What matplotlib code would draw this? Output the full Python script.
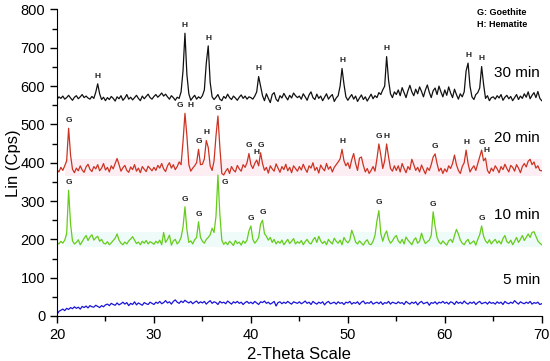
import numpy as np
import matplotlib
matplotlib.use("Agg")
from matplotlib import pyplot as plt
from matplotlib.ticker import MultipleLocator

plt.rcParams['font.family'] = ['Liberation Sans', 'DejaVu Sans']

# scan positions: 20 -> 70 deg, 0.2 deg step (251 points)
two_theta = np.linspace(20, 70, 251)

min30 = [
    565, 572, 568, 574, 566, 570, 576, 569, 563, 571, 575, 567, 572, 578, 570, 574, 569, 566, 573, 568, 584, 606, 580, 565, 571,
    562, 570, 565, 573, 568, 561, 572, 567, 575, 563, 569, 578, 566, 571, 564, 570, 576, 568, 562, 574, 567, 573, 579, 570, 566,
    573, 578, 571, 576, 582, 574, 579, 572, 566, 575, 570, 563, 571, 568, 585, 640, 738, 630, 580, 563, 570, 576, 566, 572, 568,
    575, 590, 660, 705, 610, 572, 565, 571, 578, 566, 562, 573, 568, 579, 570, 565, 574, 569, 563, 571, 577, 568, 574, 566, 572,
    570, 566, 574, 585, 625, 600, 575, 562, 580, 568, 557, 578, 583, 566, 560, 575, 569, 581, 572, 564, 576, 569, 582, 575, 570,
    574, 566, 580, 572, 563, 577, 585, 570, 565, 579, 568, 574, 562, 571, 580, 566, 573, 578, 560, 569, 575, 600, 646, 605, 572,
    563, 571, 578, 566, 574, 560, 569, 577, 565, 572, 561, 570, 579, 567, 575, 570, 583, 578, 590, 600, 677, 615, 580, 570, 585,
    578, 590, 575, 596, 583, 570, 588, 602, 585, 575, 592, 580, 598, 586, 572, 590, 603, 584, 570, 588, 595, 578, 600, 585, 572,
    590, 576, 598, 582, 570, 592, 578, 566, 580, 572, 585, 640, 660, 600, 572, 565, 578, 583, 595, 651, 605, 568, 575, 562, 570,
    572, 566, 575, 569, 578, 563, 571, 576, 567, 573, 562, 570, 578, 565, 574, 568, 580, 571, 585, 567, 576, 583, 570, 586, 568,
    562,
]

min20 = [
    382, 376, 388, 380, 392, 405, 490, 420, 383, 374, 386, 379, 392, 381, 375, 389, 396, 383, 377, 390, 384, 395, 379, 386, 398,
    381, 388, 376, 392, 384, 398, 411, 395, 378, 387, 393, 380, 375, 389, 382, 395, 378, 386, 374, 390, 383, 377, 391, 385, 379,
    388, 380, 393, 386, 398, 384, 377, 392, 400, 386, 395, 382, 390, 402, 395, 455, 529, 470, 395, 378, 386, 392, 400, 435, 395,
    396, 410, 458, 440, 392, 380, 405, 470, 522, 440, 372, 368, 378, 385, 372, 390, 381, 376, 393, 384, 378, 395, 388, 400, 424,
    395, 385, 398, 407, 392, 426, 398, 380, 388, 373, 392, 384, 378, 397, 386, 375, 390, 382, 396, 379, 388, 374, 392, 385, 378,
    390, 381, 396, 384, 375, 392, 386, 400, 380, 388, 373, 394, 385, 379, 398, 383, 390, 376, 388, 395, 402, 410, 435, 405, 392,
    400, 385, 408, 424, 398, 380, 412, 415, 393, 376, 385, 372, 380, 390, 378, 410, 449, 420, 385, 405, 449, 415, 385, 378, 392,
    380, 392, 376, 398, 385, 374, 390, 382, 409, 395, 380, 388, 376, 394, 382, 371, 387, 380, 395, 415, 423, 398, 378, 386, 372,
    384, 376, 392, 385, 398, 420, 395, 380, 372, 390, 400, 433, 398, 376, 385, 392, 380, 398, 415, 433, 405, 412, 380, 372, 386,
    378, 392, 384, 374, 390, 382, 396, 385, 376, 393, 388, 378, 395, 386, 374, 390, 398, 389, 404, 409, 395, 402, 386, 392, 380,
    379,
]

min10 = [
    192, 188, 195, 190, 198, 215, 328, 240, 196, 188, 192, 199, 186, 194, 203, 210, 197, 206, 212, 198, 204, 208, 195, 200, 190,
    188, 194, 186, 191, 197, 203, 214, 198, 190, 186, 193, 188, 196, 201, 207, 198, 189, 193, 186, 195, 190, 197, 188, 194, 191,
    187, 195, 190, 198, 186, 218, 192, 200, 211, 185, 196, 200, 188, 194, 205, 232, 285, 225, 192, 196, 188, 199, 205, 246, 205,
    195, 190, 200, 205, 212, 229, 218, 260, 368, 265, 198, 187, 193, 186, 195, 190, 184, 197, 189, 193, 185, 196, 190, 198, 222,
    235, 200, 190, 196, 205, 240, 250, 215, 208, 198, 205, 192, 200, 188, 195, 190, 198, 186, 193, 200, 189, 195, 202, 188, 194,
    190, 197, 186, 194, 200, 191, 188, 198, 205, 192, 208, 196, 189, 195, 186, 200, 193, 188, 203, 195, 190, 198, 186, 205, 196,
    191, 198, 224, 210, 193, 188, 196, 190, 185, 194, 199, 188, 186, 195, 210, 248, 275, 215, 195, 212, 222, 200, 190, 196, 205,
    210, 196, 190, 200, 188, 206, 198, 192, 186, 198, 204, 190, 195, 216, 200, 189, 194, 198, 210, 272, 235, 205, 193, 188, 196,
    190, 185, 196, 200, 192, 210, 226, 214, 198, 190, 186, 195, 200, 188, 192, 196, 185, 200, 212, 235, 208, 196, 190, 199, 188,
    195, 200, 190, 196, 188, 202, 210, 194, 190, 198, 186, 195, 205, 192, 200, 210, 197, 205, 214, 205, 218, 220, 208, 196, 190,
    186,
]

min5 = [
    4, 12, 15, 18, 14, 20, 17, 22, 19, 24, 20, 23, 18, 25, 22, 26, 21, 27, 24, 23, 28, 25, 22, 27, 24,
    29, 31, 27, 33, 30, 28, 34, 29, 32, 36, 31, 35, 27, 33, 30, 37, 29, 34, 31, 28, 35, 32, 30, 36, 33,
    30, 36, 33, 38, 32, 35, 40, 34, 37, 31, 38, 42, 36, 33, 39, 35, 41, 37, 34, 38, 32, 36, 39, 33, 37,
    34, 38, 31, 36, 40, 33, 37, 35, 30, 38, 34, 36, 32, 39, 35, 31, 37, 34, 38, 33, 36, 30, 35, 38, 33,
    36, 32, 38, 34, 30, 37, 35, 39, 33, 36, 31, 34, 38, 26, 35, 37, 32, 36, 33, 38, 34, 31, 37, 35, 33,
    37, 32, 35, 39, 33, 36, 30, 38, 34, 31, 36, 33, 37, 29, 35, 38, 32, 34, 36, 31, 37, 33, 35, 30, 36,
    34, 38, 31, 35, 33, 37, 30, 36, 39, 32, 35, 33, 38, 31, 34, 36, 32, 37, 30, 35, 33, 38, 31, 36, 34,
    32, 37, 33, 35, 30, 38, 34, 31, 36, 33, 37, 29, 35, 38, 32, 34, 36, 28, 35, 33, 37, 31, 36, 34, 38,
    33, 36, 31, 37, 35, 30, 38, 33, 36, 32, 39, 34, 31, 36, 33, 37, 30, 35, 38, 32, 34, 36, 31, 37, 33,
    35, 31, 37, 33, 36, 30, 38, 34, 32, 36, 33, 40, 35, 31, 37, 34, 32, 36, 33, 38, 31, 35, 33, 36, 30,
    32,
]

# phase marks (peak position, letter)
peaks_30 = [(24.2, 'H'), (33.2, 'H'), (35.6, 'H'), (40.8, 'H'), (49.4, 'H'),
            (54.0, 'H'), (62.4, 'H'), (63.8, 'H')]
peaks_20 = [(21.2, 'G'), (34.6, 'G'), (35.4, 'H'), (36.6, 'G'), (39.8, 'G'),
            (40.6, 'H'), (41.0, 'G'), (49.4, 'H'), (53.2, 'G'), (54.0, 'H'),
            (59.0, 'G'), (62.2, 'H'), (63.8, 'G')]
peaks_10 = [(21.2, 'G'), (33.2, 'G'), (34.6, 'G'), (40.0, 'G'), (41.2, 'G'),
            (53.2, 'G'), (58.8, 'G'), (63.8, 'G')]

fig = plt.figure(figsize=(5.5, 3.61), dpi=100)
ax = fig.add_axes([0.1036, 0.1247, 0.8814, 0.849])

# faint shading behind the red and green traces
ax.axhspan(366, 410, xmin=0.016, xmax=1.0, color='#fdeef4', lw=0, zorder=0)
ax.axhspan(180, 218, xmin=0.016, xmax=1.0, color='#eefbf9', lw=0, zorder=0)

ax.plot(two_theta, min30, color='#111111', lw=0.9)
ax.plot(two_theta, min20, color='#cc3322', lw=0.9)
ax.plot(two_theta, min10, color='#66cc1a', lw=0.9)
ax.plot(two_theta, min5, color='#1a14d8', lw=0.9)


def mark_peaks(y, peaks, dy=3):
    y = np.asarray(y)
    for pos, letter in peaks:
        i = int(np.argmin(np.abs(two_theta - pos)))
        ax.annotate(letter, (two_theta[i], y[i]), xytext=(0, dy),
                    textcoords='offset points', ha='center', va='bottom',
                    fontsize=6, fontweight='bold', color='#222222')


mark_peaks(min30, peaks_30)
mark_peaks(min20, peaks_20)
mark_peaks(min10, peaks_10)

# the doubled / shifted letters
i = int(np.argmin(np.abs(two_theta - 33.2)))
ax.annotate('G', (two_theta[i], min20[i]), xytext=(-4, 3), textcoords='offset points',
            ha='center', va='bottom', fontsize=6, fontweight='bold', color='#222222')
ax.annotate('H', (two_theta[i], min20[i]), xytext=(4, 3), textcoords='offset points',
            ha='center', va='bottom', fontsize=6, fontweight='bold', color='#222222')
i = int(np.argmin(np.abs(two_theta - 64.2)))
ax.annotate('H', (two_theta[i], min20[i]), xytext=(1, 3), textcoords='offset points',
            ha='center', va='bottom', fontsize=6, fontweight='bold', color='#222222')
i = int(np.argmin(np.abs(two_theta - 36.6)))
ax.annotate('G', (two_theta[i], min10[i]), xytext=(5, -8), textcoords='offset points',
            ha='center', va='bottom', fontsize=6, fontweight='bold', color='#222222')

# series names
ax.text(69.8, 634, '30 min', ha='right', va='center', fontsize=11)
ax.text(69.8, 465, '20 min', ha='right', va='center', fontsize=11)
ax.text(69.8, 264, '10 min', ha='right', va='center', fontsize=11)
ax.text(69.8, 94, '5 min', ha='right', va='center', fontsize=11)

ax.text(65.9, 793, 'G: Goethite', ha='center', va='center', fontsize=6.5, fontweight='bold')
ax.text(65.9, 762, 'H: Hematite', ha='center', va='center', fontsize=6.5, fontweight='bold')

ax.set_xlim(20, 70)
ax.set_ylim(0, 800)
ax.xaxis.set_major_locator(MultipleLocator(10))
ax.xaxis.set_minor_locator(MultipleLocator(5))
ax.yaxis.set_major_locator(MultipleLocator(100))
ax.yaxis.set_minor_locator(MultipleLocator(50))
ax.tick_params(which='major', direction='out', length=5, width=1, labelsize=10.5)
ax.tick_params(which='minor', direction='out', length=3.5, width=1)
ax.spines['top'].set_visible(False)
ax.spines['right'].set_visible(False)
ax.set_xlabel('2-Theta Scale', fontsize=12, labelpad=4)
ax.set_ylabel('Lin (Cps)', fontsize=12)
ax.yaxis.set_label_coords(-0.074, 0.5)

fig.savefig('out.png', dpi=100)
